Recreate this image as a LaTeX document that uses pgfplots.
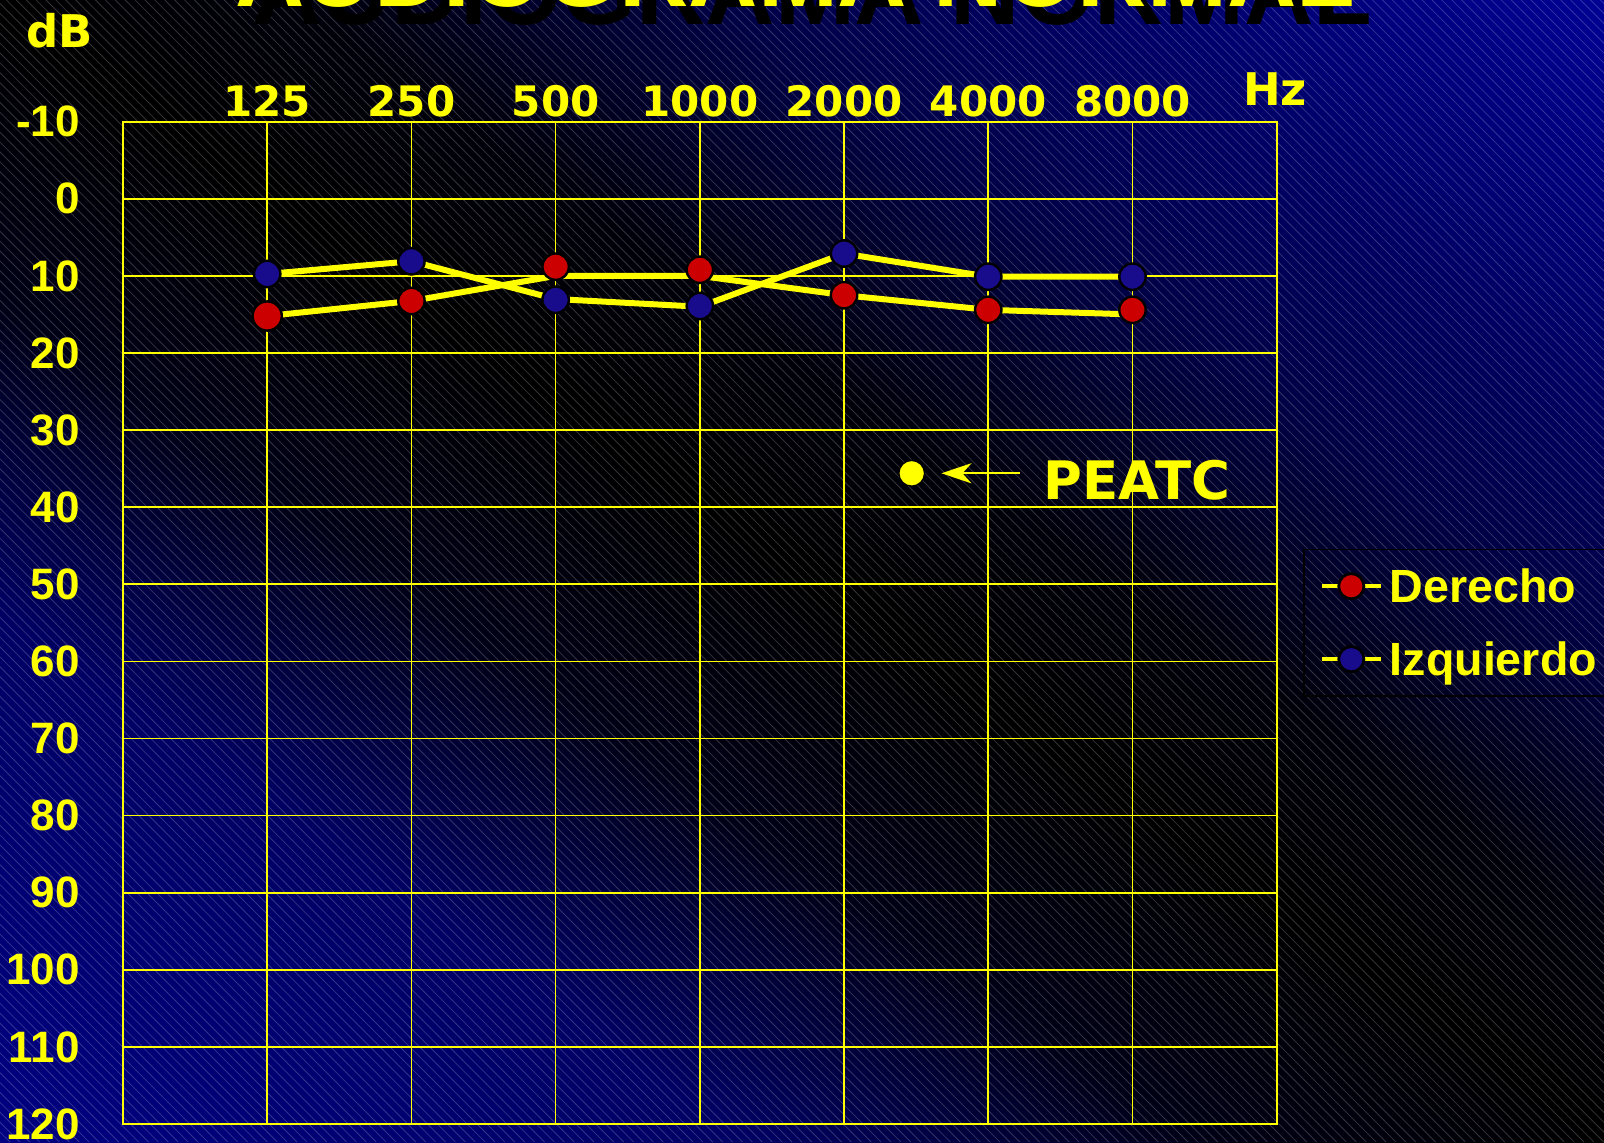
\documentclass[border=0pt]{standalone}
\usepackage{fontspec}
\setmainfont{Liberation Sans}
\newfontfamily\dejavu{DejaVu Sans}
\newfontfamily\arialf{Liberation Sans}
\usepackage{pgfplots}
\pgfplotsset{compat=1.18}
\usetikzlibrary{arrows.meta}

\definecolor{dred}{RGB}{204,0,0}
\definecolor{dblue}{RGB}{25,12,140}
\definecolor{yel}{RGB}{255,255,0}
\definecolor{cA}{RGB}{0,0,135}
\definecolor{cB}{RGB}{0,0,128}
\definecolor{cC}{RGB}{0,0,100}
\definecolor{cD}{RGB}{0,0,22}
\definecolor{cE}{RGB}{0,0,0}
\definecolor{cF}{RGB}{0,0,10}
\definecolor{cG}{RGB}{0,0,70}
\definecolor{cH}{RGB}{0,0,148}
\definecolor{cI}{RGB}{0,0,155}
\pgfdeclareverticalshading{bgdiag}{100bp}{color(0bp)=(cA); color(25bp)=(cA); color(30.8bp)=(cB); color(39.6bp)=(cC); color(45bp)=(cD); color(50bp)=(cE); color(53.6bp)=(cF); color(58.7bp)=(cG); color(69.3bp)=(cH); color(75bp)=(cI); color(100bp)=(cI)}

\begin{document}
\begin{tikzpicture}
\useasboundingbox (0,0) rectangle (802pt,571pt);
\begin{scope}
\clip (0,0) rectangle (802pt,571pt);
\begin{scope}[transform canvas={rotate around={-35:(401pt,285.5pt)}}]
\shade[shading=bgdiag] (-199pt,-314.5pt) rectangle (1001pt,885.5pt);
\end{scope}
\draw[white, opacity=0.2, line width=0.4pt] \foreach \c in {0,4.95,...,1375} { (\c pt,0pt) -- ++(-571pt,571pt) };
\end{scope}
% title with shadow
\node[anchor=base west, inner sep=0pt, text=black, font=\arialf\bfseries\fontsize{48}{48}\selectfont] at (126pt,558.5pt) {AUDIOGRAMA NORMAL};
\node[anchor=base west, inner sep=0pt, text=yel, font=\arialf\bfseries\fontsize{48}{48}\selectfont] at (117.5pt,567.5pt) {AUDIOGRAMA NORMAL};
\node[inner sep=0pt, text=yel, font=\dejavu\bfseries\fontsize{22.5}{22.5}\selectfont] at (29.75pt,555.5pt) {dB};
\node[inner sep=0pt, text=yel, font=\dejavu\bfseries\fontsize{22.5}{22.5}\selectfont] at (637.5pt,526.25pt) {Hz};

\begin{axis}[
  at={(61.5pt,9pt)}, anchor=south west, scale only axis,
  width=576.85pt, height=501.15pt,
  xmin=0, xmax=8, ymin=-10, ymax=120, y dir=reverse,
  xtick={1,...,7}, xticklabels={125,250,500,1000,2000,4000,8000},
  ytick={-10,0,10,20,30,40,50,60,70,80,90,100,110,120},
  yticklabels={-10,0,10,20,30,40,50,60,70,80,90,100,110,120},
  xticklabel pos=upper,
  major tick length=0pt,
  grid=major, major grid style={draw=yel, line width=0.85pt},
  axis line style={draw=yel, line width=1.1pt},
  xticklabel style={font=\dejavu\bfseries\fontsize{21}{21}\selectfont, text=yel, anchor=base, inner sep=0pt, yshift=2.5pt},
  yticklabel style={font=\arialf\bfseries\fontsize{22}{22}\selectfont, text=yel, anchor=east, inner sep=0pt, xshift=-21.5pt},
  legend cell align=left,
  legend image code/.code={\draw[mark repeat=2, mark phase=2, #1] plot coordinates {(0pt,0pt) (14.75pt,0pt) (29.5pt,0pt)};},
  legend style={at={(1.0228,0.5740)}, anchor=north west, draw=black, line width=0.8pt, fill=none,
    text=yel, font=\arialf\bfseries\fontsize{23.3}{23.3}\selectfont,
    inner xsep=8pt, inner ysep=10pt, row sep=19.8pt,
    /tikz/every odd column/.append style={column sep=3.5pt},
    nodes={inner sep=0pt, text height=16.7pt, text depth=0pt}},
]
% lines
\addplot[draw=yel, line width=3pt, line join=round, forget plot] coordinates {(1,15.2) (2,13.25) (3,10) (4,10) (5,12.5) (6,14.4) (7,15)};
\addplot[draw=yel, line width=3pt, line join=round, forget plot] coordinates {(1,9.75) (2,8.1) (3,13) (4,14) (5,7.1) (6,10.1) (7,10.1)};
% markers Derecho
\addplot[only marks, mark=*, mark size=7.3pt, mark options={fill=dred, draw=black, line width=1.2pt}, forget plot] coordinates {(1,15.2)};
\addplot[only marks, mark=*, mark size=6.6pt, mark options={fill=dred, draw=black, line width=1.2pt}, forget plot] coordinates {(2,13.25) (3,8.8) (4,9.2) (5,12.5) (6,14.4) (7,14.4)};
% markers Izquierdo
\addplot[only marks, mark=*, mark size=6.6pt, mark options={fill=dblue, draw=black, line width=1.2pt}, forget plot] coordinates {(1,9.75) (2,8.1) (3,13.1) (4,13.9) (5,7.1) (6,10.1) (7,10.1)};
% PEATC
\addplot[only marks, mark=*, mark size=6.4pt, mark options={fill=yel, draw=black, line width=0.6pt}, forget plot] coordinates {(5.469,35.6)};
\draw[yel, line width=1.2pt, -{Stealth[length=15pt, width=10pt, inset=4.5pt]}] (axis cs:6.218,35.6) -- (axis cs:5.675,35.6);
\node[anchor=west, inner sep=0pt, text=yel, font=\dejavu\bfseries\fontsize{26.5}{26.5}\selectfont] at (axis cs:6.38,36.46) {PEATC};
% legend
\addlegendimage{draw=yel, line width=2pt, mark=*, mark size=6.3pt, mark options={fill=dred, draw=black, line width=1.4pt}}
\addlegendentry{Derecho}
\addlegendimage{draw=yel, line width=2pt, mark=*, mark size=6.3pt, mark options={fill=dblue, draw=black, line width=1.4pt}}
\addlegendentry{Izquierdo}
\end{axis}
\end{tikzpicture}
\end{document}
